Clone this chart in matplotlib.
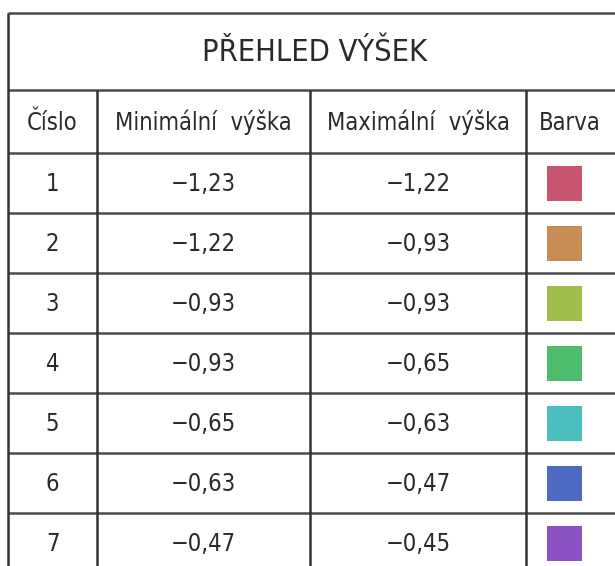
"""Recreate the 'PŘEHLED VÝŠEK' height overview table as a PNG."""

import matplotlib

matplotlib.use("Agg")
import matplotlib.pyplot as plt
from matplotlib.patches import Rectangle

TITLE = "PŘEHLED VÝŠEK"
HEADERS = ["Číslo", "Minimální  výška", "Maximální  výška", "Barva"]
ROW_IDS = [1, 2, 3, 4, 5, 6, 7]
MIN_HEIGHTS = [-1.23, -1.22, -0.93, -0.93, -0.65, -0.63, -0.47]
MAX_HEIGHTS = [-1.22, -0.93, -0.93, -0.65, -0.63, -0.47, -0.45]
SWATCHES = ["#c9546f", "#c98c52", "#9fbd4a", "#4dbd6c", "#4bbfc0", "#4d6bc2", "#8d52c2"]

plt.rcParams["font.family"] = ["DejaVu Sans"]
plt.rcParams["font.stretch"] = "condensed"
plt.rcParams["font.weight"] = "light"


def fmt(v: float) -> str:
    s = f"{abs(v):.2f}".replace(".", ",")
    return ("\u2212" if v < 0 else "") + s


# table geometry in pixels (figure is 615 x 566)
left, right = 8, 622
col_x = [left, 97, 310, 526, right]
top, title_bottom, header_bottom = 13, 90, 153
row_h = 60

fig = plt.figure(figsize=(6.15, 5.66), dpi=100)
ax = fig.add_axes([0, 0, 1, 1])
ax.set_xlim(0, 615)
ax.set_ylim(566, 0)
ax.axis("off")

n_rows = len(ROW_IDS)
bottom = header_bottom + row_h * n_rows

# horizontal lines
h_lines = [top, title_bottom, header_bottom] + [header_bottom + row_h * (i + 1) for i in range(n_rows)]
ax.hlines(h_lines, left, right, colors="#4a4a4a", lw=1.8)
# vertical lines
ax.vlines(left, top, bottom, colors="#333333", lw=1.8)
ax.vlines(col_x[1:4], title_bottom, bottom, colors="#333333", lw=1.8)

text_kw = dict(ha="center", va="center", color="#2a2a2a")
ax.text((left + right) / 2, (top + title_bottom) / 2 + 1, TITLE, fontsize=22, **text_kw)

centers = [(col_x[i] + col_x[i + 1]) / 2 for i in range(4)]
centers[3] = 570
for cx, h in zip(centers, HEADERS):
    ax.text(cx, (title_bottom + header_bottom) / 2 + 1, h, fontsize=17, **text_kw)

for i, (rid, lo, hi, col) in enumerate(zip(ROW_IDS, MIN_HEIGHTS, MAX_HEIGHTS, SWATCHES)):
    cy = header_bottom + row_h * i + row_h / 2 + 1
    ax.text(centers[0], cy, str(rid), fontsize=17, **text_kw)
    ax.text(centers[1], cy, fmt(lo), fontsize=17, **text_kw)
    ax.text(centers[2], cy, fmt(hi), fontsize=17, **text_kw)
    ax.add_patch(Rectangle((547, cy - 18), 35, 35, facecolor=col, edgecolor="none"))

fig.savefig("out.png", dpi=100)
plt.close(fig)
